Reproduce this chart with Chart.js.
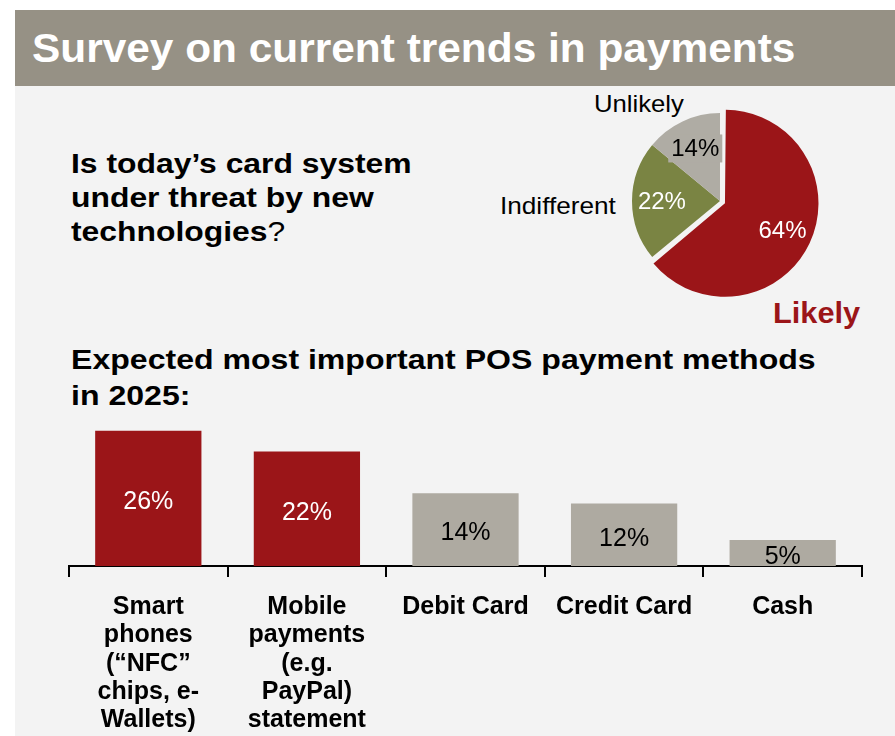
<!DOCTYPE html>
<html>
<head>
<meta charset="utf-8">
<script src="https://cdn.jsdelivr.net/npm/chart.js@4/dist/chart.umd.min.js"></script>
<style>
  html, body { margin: 0; padding: 0; background: #ffffff; }
  body { width: 895px; height: 736px; position: relative; overflow: hidden;
         font-family: "Liberation Sans", Arial, Helvetica, sans-serif; }
  #panel { position: absolute; left: 15px; top: 10px; width: 880px; height: 726px; background: #f3f3f3; }
  #banner { position: absolute; left: 15px; top: 10px; width: 880px; height: 76px; background: #969185; }
  .t { position: absolute; white-space: nowrap; transform-origin: 0 0; }
  #title { left: 32px; top: 28px; font-size: 40px; line-height: 40px; font-weight: bold; color: #ffffff; transform: scaleX(1.06); }
  #question { left: 71px; top: 147px; font-size: 27px; line-height: 34px; font-weight: bold; color: #000; transform: scaleX(1.18); }
  #question .q { font-weight: normal; }
  #heading { left: 71px; top: 342px; font-size: 28px; line-height: 36px; font-weight: bold; color: #000; transform: scaleX(1.145); }
  .pieLabel { font-size: 24px; line-height: 24px; color: #000; }
  #lblUnlikely { left: 594px; top: 92px; transform: scaleX(1.07); }
  #lblIndifferent { left: 500px; top: 194px; transform: scaleX(1.09); }
  #lblLikely { left: 773px; top: 299px; font-size: 29px; line-height: 29px; font-weight: bold; color: #9b1518; transform: scaleX(1.06); }
  #pieCanvas { position: absolute; left: 621px; top: 102px; }
  #barCanvas { position: absolute; left: 0px; top: 400px; }
</style>
</head>
<body>
<div id="panel"></div>
<div id="banner"></div>
<div class="t" id="title">Survey on current trends in payments</div>
<div class="t" id="question">Is today’s card system<br>under threat by new<br>technologies<span class="q">?</span></div>
<div class="t" id="heading">Expected most important POS payment methods<br>in 2025:</div>
<div class="t pieLabel" id="lblUnlikely">Unlikely</div>
<div class="t pieLabel" id="lblIndifferent">Indifferent</div>
<div class="t" id="lblLikely">Likely</div>
<canvas id="pieCanvas" width="198" height="198"></canvas>
<canvas id="barCanvas" width="895" height="336"></canvas>
<script>
// Threat survey (pie)
const threatLabels = ['Likely', 'Indifferent', 'Unlikely'];
const threatShares = [64, 22, 14];

// Expected POS payment methods in 2025 (bars)
const methodLabels = [
  ['Smart', 'phones', '(“NFC”', 'chips, e-', 'Wallets)'],
  ['Mobile', 'payments', '(e.g.', 'PayPal)', 'statement'],
  'Debit Card',
  'Credit Card',
  'Cash'
];
const methodShares = [26, 22, 14, 12, 5];

const RED = '#9b1518';
const GREEN = '#7a8443';
const PIE_GRAY = '#afaca4';
const BAR_GRAY = '#aeaaa1';
const FONT = '"Liberation Sans", Arial, Helvetica, sans-serif';

// Percent labels inside the pie slices
const pieValueLabels = {
  id: 'pieValueLabels',
  afterDatasetsDraw(chart) {
    const ctx = chart.ctx;
    const meta = chart.getDatasetMeta(0);
    const ds = chart.data.datasets[0];
    const textColors = ['#ffffff', '#ffffff', '#000000'];
    meta.data.forEach((arc, i) => {
      const p = arc.getProps(['x', 'y', 'startAngle', 'endAngle', 'outerRadius', 'circumference'], true);
      const mid = (p.startAngle + p.endAngle) / 2;
      // same shift the arc element applies when it is pulled out
      const base = (ds.offset[i] || 0) / 4;
      const fix = 1 - Math.sin(Math.min(Math.PI, p.circumference || 0));
      const shift = base + base * fix;
      const r = p.outerRadius * 0.66 + shift;
      const x = p.x + Math.cos(mid) * r;
      const y = p.y + Math.sin(mid) * r;
      const txt = ds.data[i] + '%';
      ctx.save();
      ctx.font = '24px ' + FONT;
      ctx.textAlign = 'center';
      ctx.textBaseline = 'middle';
      if (i === 2) {
        const w = ctx.measureText(txt).width + 6;
        ctx.fillStyle = PIE_GRAY;
        ctx.fillRect(x - w / 2, y - 14, w, 28);
      }
      ctx.fillStyle = textColors[i];
      ctx.fillText(txt, x, y + 1);
      ctx.restore();
    });
  }
};

new Chart(document.getElementById('pieCanvas'), {
  type: 'pie',
  data: {
    labels: threatLabels,
    datasets: [{
      data: threatShares,
      backgroundColor: [RED, GREEN, PIE_GRAY],
      borderWidth: 0,
      offset: [22, 0, 0]
    }]
  },
  options: {
    responsive: false,
    animation: false,
    layout: { padding: 0 },
    plugins: { legend: { display: false }, tooltip: { enabled: false } }
  },
  plugins: [pieValueLabels]
});

// Percent labels centred inside each bar
const barValueLabels = {
  id: 'barValueLabels',
  afterDatasetsDraw(chart) {
    const ctx = chart.ctx;
    const meta = chart.getDatasetMeta(0);
    const ds = chart.data.datasets[0];
    meta.data.forEach((bar, i) => {
      const p = bar.getProps(['x', 'y', 'base'], true);
      ctx.save();
      ctx.font = '25px ' + FONT;
      ctx.textAlign = 'center';
      ctx.textBaseline = 'middle';
      ctx.fillStyle = i < 2 ? '#ffffff' : '#000000';
      ctx.fillText(ds.data[i] + '%', p.x, (p.y + p.base) / 2 + 4);
      ctx.restore();
    });
  }
};

new Chart(document.getElementById('barCanvas'), {
  type: 'bar',
  data: {
    labels: methodLabels,
    datasets: [{
      data: methodShares,
      backgroundColor: methodShares.map((v, i) => i < 2 ? RED : BAR_GRAY),
      borderWidth: 0,
      categoryPercentage: 1,
      barPercentage: 0.67
    }]
  },
  options: {
    responsive: false,
    animation: false,
    layout: { padding: { left: 69, right: 33, top: 10, bottom: 0 } },
    plugins: { legend: { display: false }, tooltip: { enabled: false } },
    scales: {
      y: { display: false, min: 0, max: 30 },
      x: {
        afterFit(scale) { scale.height = 170; },
        grid: { display: true, drawOnChartArea: false, drawTicks: true, tickLength: 11, color: '#000000', lineWidth: 2, offset: true },
        border: { display: true, color: '#000000', width: 2 },
        ticks: {
          color: '#000000',
          padding: 16,
          maxRotation: 0,
          autoSkip: false,
          font: { family: FONT, size: 25, weight: 'bold', lineHeight: 1.13 }
        }
      }
    }
  },
  plugins: [barValueLabels]
});
</script>
</body>
</html>
